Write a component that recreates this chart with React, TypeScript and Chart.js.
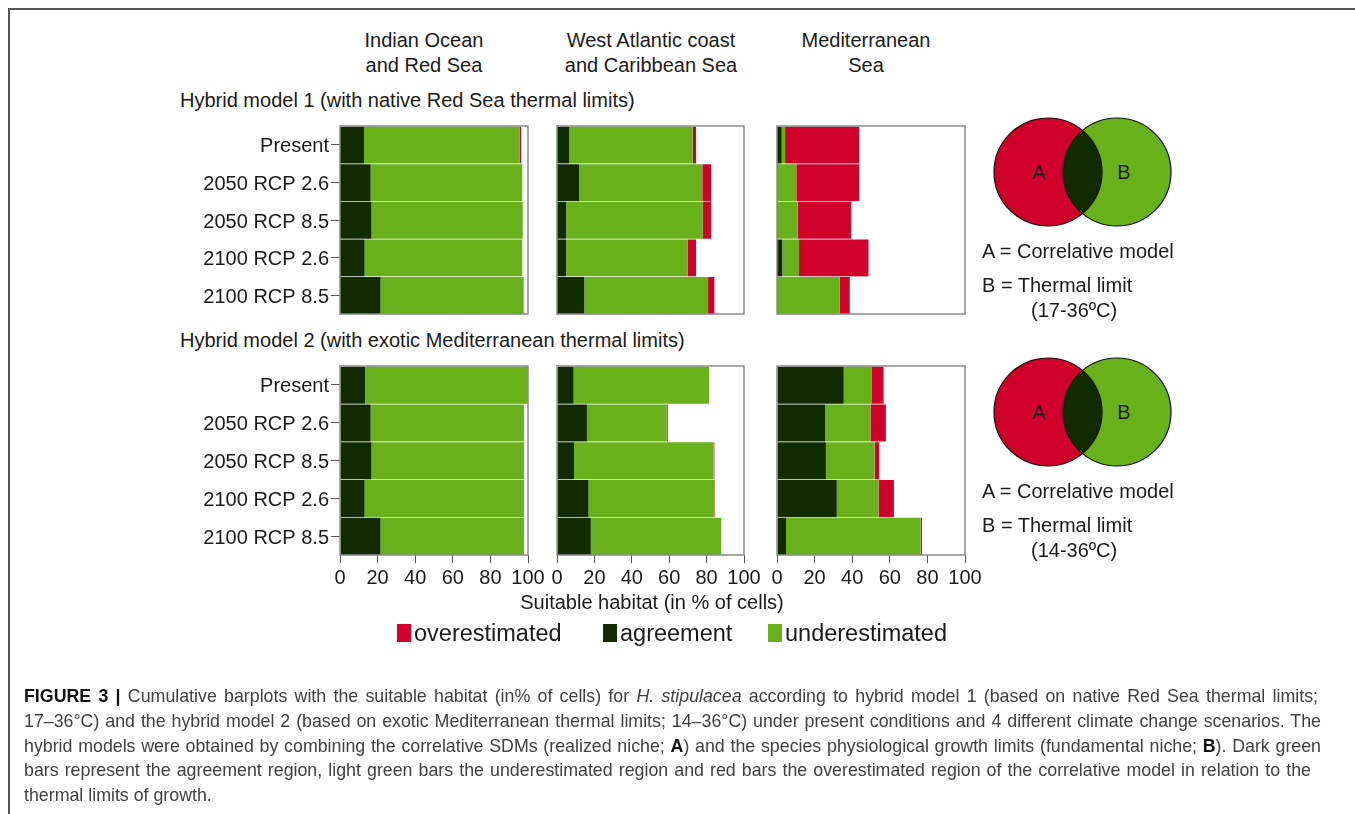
import React, { useEffect, useRef } from "react";
import { Chart, registerables } from "chart.js";

Chart.register(...registerables);

// ---------------- data ----------------
const categories = ["Present", "2050 RCP 2.6", "2050 RCP 8.5", "2100 RCP 2.6", "2100 RCP 8.5"];
const xTicks = [0, 20, 40, 60, 80, 100];
const regionTitles = [
  ["Indian Ocean", "and Red Sea"],
  ["West Atlantic coast", "and Caribbean Sea"],
  ["Mediterranean", "Sea"],
];
const modelTitles = [
  "Hybrid model 1 (with native Red Sea thermal limits)",
  "Hybrid model 2 (with exotic Mediterranean thermal limits)",
];
const thermalRanges = ["(17-36ºC)", "(14-36ºC)"];
const legendNames = ["overestimated", "agreement", "underestimated"];

// Hybrid model 1
const hm1IndianAgreement = [12.8, 16.3, 16.8, 13.1, 21.6];
const hm1IndianUnder = [82.9, 80.7, 80.4, 83.9, 76.1];
const hm1IndianOver = [0.6, 0, 0, 0, 0];

const hm1AtlanticAgreement = [6.7, 12, 5, 5, 14.7];
const hm1AtlanticUnder = [65.9, 65.7, 73, 65, 66.1];
const hm1AtlanticOver = [1.8, 4.7, 4.4, 4.4, 3.4];

const hm1MedAgreement = [2.5, 0, 0, 2.9, 0];
const hm1MedUnder = [1.8, 10.3, 11, 8.8, 33.4];
const hm1MedOver = [39.4, 33.4, 28.4, 37, 5.3];

// Hybrid model 2
const hm2IndianAgreement = [13.5, 16.3, 16.8, 13.1, 21.6];
const hm2IndianUnder = [86.5, 81.6, 81.1, 84.8, 76.3];
const hm2IndianOver = [0, 0, 0, 0, 0];

const hm2AtlanticAgreement = [8.9, 16, 9.1, 16.9, 18.1];
const hm2AtlanticUnder = [72.4, 42.7, 74.7, 67.3, 69.8];
const hm2AtlanticOver = [0, 0.5, 0.4, 0.4, 0];

const hm2MedAgreement = [35.5, 25.8, 26, 31.8, 4.8];
const hm2MedUnder = [15, 23.9, 25.9, 22.2, 71.6];
const hm2MedOver = [6.2, 8.2, 2.4, 8.2, 0.7];

// ---------------- styles ----------------
const AGREE = "#112b02";
const UNDER = "#69b11b";
const OVER = "#d0002b";
const FRAME = "#8a8a8a";
const TICK = "#555555";
const TEXT = "#1a1a1a";
const FONT = "'Liberation Sans', Arial, Helvetica, sans-serif";

const PLOT_LEFT = [340, 557, 777];
const PLOT_RIGHT = [528, 744, 965];
const PLOT_TOP = [126, 366];
const PLOT_BOTTOM = [314, 555];

const framePlugin = {
  id: "frame",
  afterDraw(chart: any) {
    const { ctx, chartArea: a } = chart;
    ctx.save();
    ctx.strokeStyle = FRAME;
    ctx.lineWidth = 1.5;
    ctx.strokeRect(a.left, a.top, a.right - a.left, a.bottom - a.top);
    ctx.restore();
  },
};

function Panel(props: { agreement: number[]; under: number[]; over: number[]; col: number; row: number }) {
  const { agreement, under, over, col, row } = props;
  const ref = useRef<HTMLCanvasElement>(null);
  const showY = col === 0;
  const showX = row === 1;
  const padL = showY ? 170 : 20;
  const padR = 26;
  const padT = 4;
  const padB = showX ? 40 : 4;
  const plotW = PLOT_RIGHT[col] - PLOT_LEFT[col];
  const plotH = PLOT_BOTTOM[row] - PLOT_TOP[row];
  const w = plotW + padL + padR;
  const h = plotH + padT + padB;
  const left = PLOT_LEFT[col] - padL;
  const top = PLOT_TOP[row] - padT;

  useEffect(() => {
    if (!ref.current) return;
    const sep = "rgba(255,255,255,0.25)";
    const chart = new Chart(ref.current, {
      type: "bar",
      data: {
        labels: categories,
        datasets: [
          { label: "agreement", data: agreement, backgroundColor: AGREE, borderColor: sep, borderWidth: { top: 1, bottom: 0, left: 0, right: 0 }, borderSkipped: false },
          { label: "underestimated", data: under, backgroundColor: UNDER, borderColor: sep, borderWidth: { top: 1, bottom: 0, left: 0, right: 0 }, borderSkipped: false },
          { label: "overestimated", data: over, backgroundColor: OVER, borderColor: sep, borderWidth: { top: 1, bottom: 0, left: 0, right: 0 }, borderSkipped: false },
        ],
      },
      options: {
        indexAxis: "y",
        responsive: false,
        maintainAspectRatio: false,
        animation: false,
        layout: {
          padding: { left: showY ? 0 : padL, right: padR, top: padT, bottom: showX ? 0 : padB },
        },
        plugins: { legend: { display: false }, tooltip: { enabled: false } },
        datasets: { bar: { barPercentage: 1, categoryPercentage: 1 } },
        scales: {
          x: {
            type: "linear",
            stacked: true,
            min: 0,
            max: 100,
            display: showX,
            afterBuildTicks: (s: any) => {
              s.ticks = xTicks.map((v) => ({ value: v }));
            },
            afterFit: (s: any) => {
              s.paddingLeft = 0;
              s.paddingRight = 0;
              s.height = showX ? 40 : 0;
            },
            ticks: {
              font: { family: FONT, size: 20 },
              color: TEXT,
              padding: 3,
              maxRotation: 0,
              autoSkip: false,
            },
            grid: { drawOnChartArea: false, drawTicks: true, tickLength: 8, color: TICK, lineWidth: 1 },
            border: { display: false },
          },
          y: {
            stacked: true,
            display: showY,
            afterFit: (s: any) => {
              s.paddingTop = 0;
              s.paddingBottom = 0;
              s.width = showY ? 170 : 0;
            },
            ticks: { font: { family: FONT, size: 20 }, color: TEXT, padding: 2, autoSkip: false, labelOffset: 2 },
            grid: { offset: false, drawOnChartArea: false, drawTicks: true, tickLength: 9, color: TICK, lineWidth: 1 },
            border: { display: false },
          },
        },
      } as any,
      plugins: [framePlugin],
    });
    return () => chart.destroy();
  }, []);

  return (
    <canvas
      ref={ref}
      width={w}
      height={h}
      style={{ position: "absolute", left, top, width: w, height: h }}
    />
  );
}

function Venn(props: { cy: number; idx: number }) {
  const { cy, idx } = props;
  const ax = 1048, bx = 1117, r = 54;
  const clipId = "clipA" + idx;
  return (
    <svg
      width={1355}
      height={814}
      style={{ position: "absolute", left: 0, top: 0, pointerEvents: "none" }}
    >
      <defs>
        <clipPath id={clipId}>
          <circle cx={ax} cy={cy} r={r} />
        </clipPath>
      </defs>
      <circle cx={ax} cy={cy} r={r} fill={OVER} />
      <circle cx={bx} cy={cy} r={r} fill={UNDER} />
      <circle cx={bx} cy={cy} r={r} fill={AGREE} clipPath={`url(#${clipId})`} />
      <circle cx={ax} cy={cy} r={r} fill="none" stroke="#111" strokeWidth={1.2} />
      <circle cx={bx} cy={cy} r={r} fill="none" stroke="#111" strokeWidth={1.2} />
      <text x={1039} y={cy + 7} fontFamily={FONT} fontSize={20} fill={TEXT} textAnchor="middle">A</text>
      <text x={1124} y={cy + 7} fontFamily={FONT} fontSize={20} fill={TEXT} textAnchor="middle">B</text>
    </svg>
  );
}

const abs = (extra: React.CSSProperties): React.CSSProperties => ({
  position: "absolute",
  whiteSpace: "nowrap",
  fontFamily: FONT,
  color: TEXT,
  ...extra,
});

export default function App() {
  const headingCenters = [424, 651, 866];
  const captionLines: React.ReactNode[] = [
    <>
      <b style={{ color: "#111" }}>FIGURE 3 |</b> Cumulative barplots with the suitable habitat (in% of cells) for{" "}
      <i>H. stipulacea</i> according to hybrid model 1 (based on native Red Sea thermal limits;
    </>,
    <>17–36°C) and the hybrid model 2 (based on exotic Mediterranean thermal limits; 14–36°C) under present conditions and 4 different climate change scenarios. The</>,
    <>
      hybrid models were obtained by combining the correlative SDMs (realized niche; <b style={{ color: "#111" }}>A</b>) and the species
      physiological growth limits (fundamental niche; <b style={{ color: "#111" }}>B</b>). Dark green
    </>,
    <>bars represent the agreement region, light green bars the underestimated region and red bars the overestimated region of the correlative model in relation to the</>,
    <>thermal limits of growth.</>,
  ];
  const captionWidths = [1294, 1297, 1297, 1287, 0];
  const legendColors = [OVER, AGREE, UNDER];
  const legendX = [397, 603, 768];

  return (
    <div style={{ position: "absolute", left: 0, top: 0, width: 1355, height: 814, background: "#fff", overflow: "hidden" }}>
      {/* outer frame */}
      <div style={{ position: "absolute", left: 8, top: 8, width: 1360, height: 820, borderTop: "2px solid #555", borderLeft: "2px solid #555" }} />

      {/* column headings */}
      {regionTitles.map((lines, i) => (
        <div
          key={"h" + i}
          style={abs({ left: headingCenters[i] - 130, width: 260, top: 28, fontSize: 20, lineHeight: "25px", textAlign: "center" })}
        >
          {lines[0]}
          <br />
          {lines[1]}
        </div>
      ))}

      {/* model titles */}
      {modelTitles.map((t, i) => (
        <div key={"m" + i} style={abs({ left: 180, top: 88 + i * 240, fontSize: 20, lineHeight: "25px" })}>
          {t}
        </div>
      ))}

      {/* panels */}
      <Panel agreement={hm1IndianAgreement} under={hm1IndianUnder} over={hm1IndianOver} col={0} row={0} />
      <Panel agreement={hm1AtlanticAgreement} under={hm1AtlanticUnder} over={hm1AtlanticOver} col={1} row={0} />
      <Panel agreement={hm1MedAgreement} under={hm1MedUnder} over={hm1MedOver} col={2} row={0} />
      <Panel agreement={hm2IndianAgreement} under={hm2IndianUnder} over={hm2IndianOver} col={0} row={1} />
      <Panel agreement={hm2AtlanticAgreement} under={hm2AtlanticUnder} over={hm2AtlanticOver} col={1} row={1} />
      <Panel agreement={hm2MedAgreement} under={hm2MedUnder} over={hm2MedOver} col={2} row={1} />

      {/* axis title */}
      <div style={abs({ left: 452, width: 400, top: 590, fontSize: 20, lineHeight: "25px", textAlign: "center" })}>
        Suitable habitat (in % of cells)
      </div>

      {/* legend */}
      {legendNames.map((n, i) => (
        <React.Fragment key={"l" + i}>
          <div style={{ position: "absolute", left: legendX[i], top: 624, width: 14, height: 18, background: legendColors[i] }} />
          <div style={abs({ left: legendX[i] + 17, top: 618, fontSize: 23.5, lineHeight: "30px" })}>{n}</div>
        </React.Fragment>
      ))}

      {/* Venn diagrams + legends */}
      {[0, 1].map((i) => (
        <React.Fragment key={"v" + i}>
          <Venn cy={172 + i * 240} idx={i} />
          <div style={abs({ left: 982, top: 239 + i * 240, fontSize: 20, lineHeight: "25px" })}>A = Correlative model</div>
          <div style={abs({ left: 982, top: 273 + i * 240, fontSize: 20, lineHeight: "25px" })}>B = Thermal limit</div>
          <div style={abs({ left: 1031, top: 298 + i * 240, fontSize: 20, lineHeight: "25px" })}>{thermalRanges[i]}</div>
        </React.Fragment>
      ))}

      {/* caption */}
      {captionLines.map((ln, i) =>
        captionWidths[i] > 0 ? (
          <div
            key={"c" + i}
            style={{
              position: "absolute",
              left: 24,
              top: 684 + i * 24.8,
              width: captionWidths[i],
              fontFamily: FONT,
              fontSize: 17.8,
              lineHeight: "24px",
              color: "#404040",
              whiteSpace: "normal",
              textAlign: "justify",
              textAlignLast: "justify",
              overflow: "visible",
            }}
          >
            {ln}
          </div>
        ) : (
          <div
            key={"c" + i}
            style={abs({ left: 24, top: 684 + i * 24.8, fontSize: 17.8, lineHeight: "24px", color: "#404040" })}
          >
            {ln}
          </div>
        )
      )}
    </div>
  );
}
